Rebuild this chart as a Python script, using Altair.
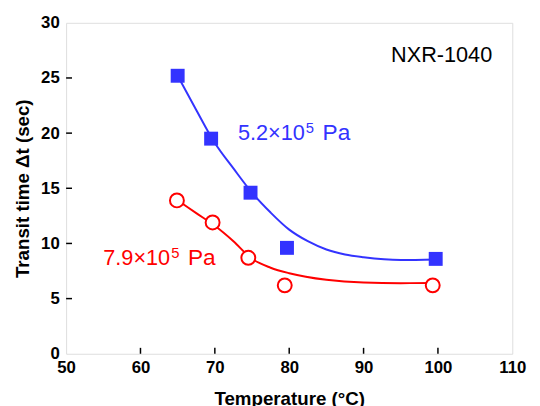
import altair as alt
import pandas as pd

# measured points
temp_blue = [65.0, 69.5, 74.8, 79.7, 99.7]
time_blue = [25.2, 19.5, 14.6, 9.6, 8.6]
temp_red = [64.9, 69.7, 74.5, 79.4, 99.3]
time_red = [13.9, 11.9, 8.7, 6.2, 6.2]

# fitted curves
fit_x_blue = [65, 67.5, 70, 72.5, 75, 77.5, 80, 82.5, 85, 87.5, 90, 95, 99.7]
fit_y_blue = [25.2, 22.1, 19.1, 16.8, 14.6, 12.8, 11.25, 10.2, 9.45, 9.0, 8.75, 8.5, 8.55]
fit_x_red = [65, 67.5, 70, 72.5, 75, 77.5, 80, 85, 90, 95, 99.3]
fit_y_red = [13.9, 12.75, 11.6, 10.2, 8.6, 7.8, 7.3, 6.7, 6.45, 6.4, 6.42]

x_ticks = [50, 60, 70, 80, 90, 100, 110]
y_ticks = [0, 5, 10, 15, 20, 25, 30]

# annotations
ann_x = [73.1, 55.0]
ann_y = [20.0, 8.7]
ann_main = ["5.2×10", "7.9×10"]
ann_sup = ["5", "5"]
ann_unit = ["Pa", "Pa"]
ann_color = ["#3333ff", "#ff0000"]
tag_x, tag_y, tag_text = [93.7], [27.1], ["NXR-1040"]

BLUE = "#3333ff"
RED = "#ff0000"
FONT = "Liberation Sans"
W, H = 453, 336

xs = alt.Scale(domain=[50, 110], nice=False, zero=False)
ys = alt.Scale(domain=[0, 30], nice=False)

x_axis = alt.Axis(values=x_ticks, tickSize=0, domain=False, grid=False,
                  labelFont=FONT, labelFontSize=17, labelFontWeight="bold",
                  labelColor="black", labelPadding=6, labelFlush=False,
                  labelOverlap=False, title="Temperature (°C)", titleFont=FONT,
                  titleFontSize=19, titleFontWeight="bold", titleColor="black",
                  titlePadding=15)
y_axis = alt.Axis(values=y_ticks, tickSize=0, domain=False, grid=False,
                  labelFont=FONT, labelFontSize=17, labelFontWeight="bold",
                  labelColor="black", labelPadding=7, labelFlush=False,
                  labelOverlap=False, title="Transit time Δt (sec)", titleFont=FONT,
                  titleFontSize=19, titleFontWeight="bold", titleColor="black",
                  titlePadding=8)

blue_fit = pd.DataFrame({"x": fit_x_blue, "y": fit_y_blue})
red_fit = pd.DataFrame({"x": fit_x_red, "y": fit_y_red})
blue_pts = pd.DataFrame({"x": temp_blue, "y": time_blue})
red_pts = pd.DataFrame({"x": temp_red, "y": time_red})

line_blue = alt.Chart(blue_fit).mark_line(color=BLUE, strokeWidth=2, interpolate="monotone").encode(
    x=alt.X("x:Q", scale=xs, axis=x_axis),
    y=alt.Y("y:Q", scale=ys, axis=y_axis),
)
line_red = alt.Chart(red_fit).mark_line(color=RED, strokeWidth=2, interpolate="monotone").encode(
    x=alt.X("x:Q", scale=xs), y=alt.Y("y:Q", scale=ys))

pts_blue = alt.Chart(blue_pts).mark_point(shape="square", filled=True, color=BLUE, size=200, opacity=1).encode(
    x=alt.X("x:Q", scale=xs), y=alt.Y("y:Q", scale=ys))
pts_red = alt.Chart(red_pts).mark_point(shape="circle", filled=False, fill="white", fillOpacity=1,
                                        stroke=RED, strokeWidth=2, size=200, opacity=1).encode(
    x=alt.X("x:Q", scale=xs), y=alt.Y("y:Q", scale=ys))

xt = alt.Chart(pd.DataFrame({"t": x_ticks[1:-1]})).mark_rule(color="black", strokeWidth=1.5).encode(
    x=alt.X("t:Q", scale=xs), y=alt.value(H), y2=alt.value(H - 6))
yt = alt.Chart(pd.DataFrame({"t": y_ticks[1:-1]})).mark_rule(color="black", strokeWidth=1.5).encode(
    y=alt.Y("t:Q", scale=ys), x=alt.value(0), x2=alt.value(6))

ann = pd.DataFrame({"x": ann_x, "y": ann_y, "main": ann_main, "sup": ann_sup,
                    "unit": ann_unit, "color": ann_color})
ann_base = alt.Chart(ann).encode(x=alt.X("x:Q", scale=xs), y=alt.Y("y:Q", scale=ys),
                                 color=alt.Color("color:N", scale=None))
t_main = ann_base.mark_text(align="left", baseline="middle", font=FONT, fontSize=22).encode(text="main:N")
t_sup = ann_base.mark_text(align="left", baseline="middle", font=FONT, fontSize=15, dx=69, dy=-5).encode(text="sup:N")
t_unit = ann_base.mark_text(align="left", baseline="middle", font=FONT, fontSize=23, dx=86).encode(text="unit:N")

tag = alt.Chart(pd.DataFrame({"x": tag_x, "y": tag_y, "t": tag_text})).mark_text(
    align="left", baseline="middle", font=FONT, fontSize=22, color="black").encode(
    x=alt.X("x:Q", scale=xs), y=alt.Y("y:Q", scale=ys), text="t:N")

chart = alt.layer(xt, yt, line_blue, line_red, pts_blue, pts_red, t_main, t_sup, t_unit, tag).properties(
    width=W, height=H,
    autosize=alt.AutoSizeParams(type="none"),
    padding={"left": 59, "top": 12, "right": 20, "bottom": 50},
).configure_view(stroke="black", strokeWidth=2).configure(background="white")

chart.save("out.html", embed_options={"renderer": "svg", "actions": False})
